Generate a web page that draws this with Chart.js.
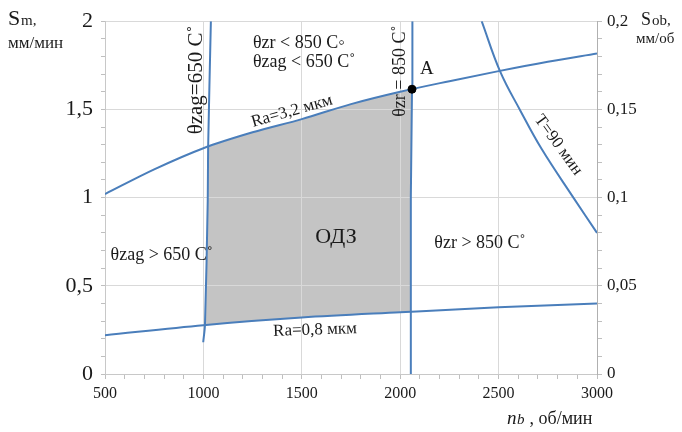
<!DOCTYPE html>
<html>
<head>
<meta charset="utf-8">
<script src="https://cdn.jsdelivr.net/npm/chart.js@4.4.1/dist/chart.umd.min.js"></script>
<style>
  html, body { margin: 0; padding: 0; background: #fff; }
  #wrap { width: 682px; height: 432px; }
</style>
</head>
<body>
<div id="wrap"><canvas id="odz" width="682" height="432"></canvas></div>
<script>
// spindle speed n, об/мин  ->  feed S, мм/мин
const ra32N = [500, 750, 1000, 1250, 1500, 1750, 2000, 2250, 2500, 2750, 3000];
const ra32S = [1.02, 1.16, 1.28, 1.37, 1.445, 1.53, 1.60, 1.66, 1.717, 1.77, 1.817];

const ra08N = [500, 1000, 1500, 2000, 2500, 3000];
const ra08S = [0.22, 0.277, 0.32, 0.35, 0.378, 0.40];

// near-vertical limits, listed bottom to top
const zag650S = [0.18, 0.28, 0.98, 1.28, 2.0];
const zag650N = [999, 1008, 1022, 1024, 1038];

const zr850S = [0, 1.0, 1.61, 2.0];
const zr850N = [2050, 2054, 2060, 2062];

const t90N = [2414, 2507, 2612, 2719, 2880, 3000];
const t90S = [2.0, 1.717, 1.49, 1.275, 1.0, 0.80];

const xTicksMajor = 500;
const yTicksMajor = 0.5;
const y2TicksMajor = 0.05;

const notes = [
  { text: 'θzr < 850 C◦', n: 1252, s: 1.876, size: 18, align: 'left' },
  { text: 'θzag < 650 C˚', n: 1252, s: 1.768, size: 18, align: 'left' },
  { text: 'θzag=650 C˚', n: 967, s: 1.667, size: 21, angle: -90 },
  { text: 'Ra=3,2 мкм', n: 1450, s: 1.49, size: 17, angle: -16 },
  { text: 'θzr = 850 C˚', n: 2000, s: 1.717, size: 18, angle: -90 },
  { text: 'A', n: 2136, s: 1.729, size: 19 },
  { text: 'T=90 мин', n: 2803, s: 1.298, size: 17, angle: 54 },
  { text: 'ОДЗ', n: 1674, s: 0.776, size: 22 },
  { text: 'θzag > 650 C˚', n: 788, s: 0.672, size: 18 },
  { text: 'θzr > 850 C˚', n: 2405, s: 0.74, size: 18 },
  { text: 'Ra=0,8 мкм', n: 1567, s: 0.249, size: 17, angle: -2 }
];

const SERIF = '"Liberation Serif", "Times New Roman", serif';
const BLUE = '#4a7ebb';
const GRID = '#d9d9d9';

function valueAt(xs, ys, x) {
  if (x <= xs[0]) return ys[0];
  for (let i = 1; i < xs.length; i++) {
    if (x <= xs[i]) {
      const t = (x - xs[i - 1]) / (xs[i] - xs[i - 1]);
      return ys[i - 1] + t * (ys[i] - ys[i - 1]);
    }
  }
  return ys[ys.length - 1];
}

// crossing of a near-vertical limit with a feed curve
function cross(lineS, lineN, curveN, curveS) {
  let n = lineN[0], s = 0;
  for (let k = 0; k < 20; k++) {
    s = valueAt(curveN, curveS, n);
    n = valueAt(lineS, lineN, s);
  }
  return { n, s };
}

const bl = cross(zag650S, zag650N, ra08N, ra08S);
const br = cross(zr850S, zr850N, ra08N, ra08S);
const tr = cross(zr850S, zr850N, ra32N, ra32S);
const tl = cross(zag650S, zag650N, ra32N, ra32S);

// boundary of the admissible region (ОДЗ)
const region = [bl];
ra08N.forEach((n, i) => { if (n > bl.n && n < br.n) region.push({ n, s: ra08S[i] }); });
region.push(br);
zr850S.forEach((s, i) => { if (s > br.s && s < tr.s) region.push({ n: zr850N[i], s }); });
region.push(tr);
for (let i = ra32N.length - 1; i >= 0; i--) {
  if (ra32N[i] > tl.n && ra32N[i] < tr.n) region.push({ n: ra32N[i], s: ra32S[i] });
}
region.push(tl);
for (let i = zag650S.length - 1; i >= 0; i--) {
  if (zag650S[i] > bl.s && zag650S[i] < tl.s) region.push({ n: zag650N[i], s: zag650S[i] });
}

const pts = (xs, ys) => xs.map((x, i) => ({ x, y: ys[i] }));
const ptsV = (ss, ns) => ss.map((s, i) => ({ x: ns[i], y: s }));

const regionFill = {
  id: 'regionFill',
  beforeDraw(chart) {
    const { ctx, scales: { x, y } } = chart;
    ctx.save();
    ctx.beginPath();
    region.forEach((p, i) => {
      const px = x.getPixelForValue(p.n), py = y.getPixelForValue(p.s);
      if (i === 0) ctx.moveTo(px, py); else ctx.lineTo(px, py);
    });
    ctx.closePath();
    ctx.fillStyle = '#c4c4c4';
    ctx.fill();
    ctx.restore();
  }
};

const labels = {
  id: 'labels',
  afterDraw(chart) {
    const { ctx, scales: { x, y } } = chart;
    ctx.save();
    ctx.fillStyle = '#1a1a1a';
    ctx.textBaseline = 'middle';
    notes.forEach(t => {
      ctx.save();
      ctx.translate(x.getPixelForValue(t.n), y.getPixelForValue(t.s));
      ctx.rotate((t.angle || 0) * Math.PI / 180);
      ctx.font = t.size + 'px ' + SERIF;
      ctx.textAlign = t.align || 'center';
      ctx.fillText(t.text, 0, 0);
      ctx.restore();
    });

    // axis titles
    ctx.textBaseline = 'alphabetic';
    ctx.textAlign = 'left';
    ctx.font = '22px ' + SERIF;
    ctx.fillText('S', 8, 25);
    ctx.font = '15px ' + SERIF;
    ctx.fillText('m,', 21, 25);
    ctx.font = '17px ' + SERIF;
    ctx.fillText('мм/мин', 8, 48);

    ctx.font = '18px ' + SERIF;
    ctx.fillText('S', 641, 25);
    ctx.font = '15px ' + SERIF;
    ctx.fillText('ob,', 652, 25);
    ctx.fillText('мм/об', 636, 43);

    ctx.font = 'italic 19px ' + SERIF;
    ctx.fillText('n', 507, 424);
    ctx.font = 'italic 15px ' + SERIF;
    ctx.fillText('b', 517, 424);
    ctx.font = '18px ' + SERIF;
    ctx.fillText(' , об/мин', 525, 424);
    ctx.restore();
  }
};

const near = (v, step) => Math.abs(v / step - Math.round(v / step)) < 1e-6;
const comma = (v, d) => String(Math.round(v * d) / d).replace('.', ',');

const lineStyle = { showLine: true, borderColor: BLUE, borderWidth: 2, pointRadius: 0 };

new Chart(document.getElementById('odz'), {
  type: 'scatter',
  data: {
    datasets: [
      { data: [{ x: tr.n, y: tr.s }], pointRadius: 4, backgroundColor: '#000', borderColor: '#000', showLine: false, order: -1 },
      { ...lineStyle, data: pts(ra32N, ra32S), cubicInterpolationMode: 'monotone' },
      { ...lineStyle, data: pts(ra08N, ra08S), cubicInterpolationMode: 'monotone' },
      { ...lineStyle, data: pts(t90N, t90S), tension: 0.4 },
      { ...lineStyle, data: ptsV(zag650S, zag650N), tension: 0.3 },
      { ...lineStyle, data: ptsV(zr850S, zr850N) }
    ]
  },
  options: {
    responsive: false,
    animation: false,
    layout: { padding: { top: 20, left: 0, right: 0, bottom: 0 } },
    plugins: { legend: { display: false }, tooltip: { enabled: false } },
    scales: {
      x: {
        type: 'linear', min: 500, max: 3000,
        afterFit: s => { s.height = 58; },
        ticks: {
          stepSize: 100, autoSkip: false, maxRotation: 0, padding: 5,
          color: '#1a1a1a', font: { family: SERIF, size: 16 },
          callback: v => near(v, xTicksMajor) ? String(v) : ''
        },
        grid: {
          color: c => near(c.tick.value, xTicksMajor) ? GRID : 'rgba(0,0,0,0)',
          tickColor: '#bfbfbf', tickLength: 5
        },
        border: { color: '#c8c8c8' }
      },
      y: {
        position: 'left', min: 0, max: 2,
        afterFit: s => { s.width = 105; },
        ticks: {
          stepSize: 0.1, autoSkip: false, padding: 8,
          color: '#1a1a1a', font: { family: SERIF, size: 22 },
          callback: v => near(v, yTicksMajor) ? comma(v, 10) : ''
        },
        grid: {
          color: c => near(c.tick.value, yTicksMajor) ? GRID : 'rgba(0,0,0,0)',
          tickColor: '#bfbfbf', tickLength: 4
        },
        border: { color: '#c8c8c8' }
      },
      y2: {
        position: 'right', min: 0, max: 0.2,
        afterFit: s => { s.width = 85; },
        ticks: {
          stepSize: 0.01, autoSkip: false, padding: 5,
          color: '#1a1a1a', font: { family: SERIF, size: 17 },
          callback: v => near(v, y2TicksMajor) ? comma(v, 100) : ''
        },
        grid: { drawOnChartArea: false, tickColor: '#bfbfbf', tickLength: 5 },
        border: { color: '#b0b0b0' }
      }
    }
  },
  plugins: [regionFill, labels]
});
</script>
</body>
</html>
